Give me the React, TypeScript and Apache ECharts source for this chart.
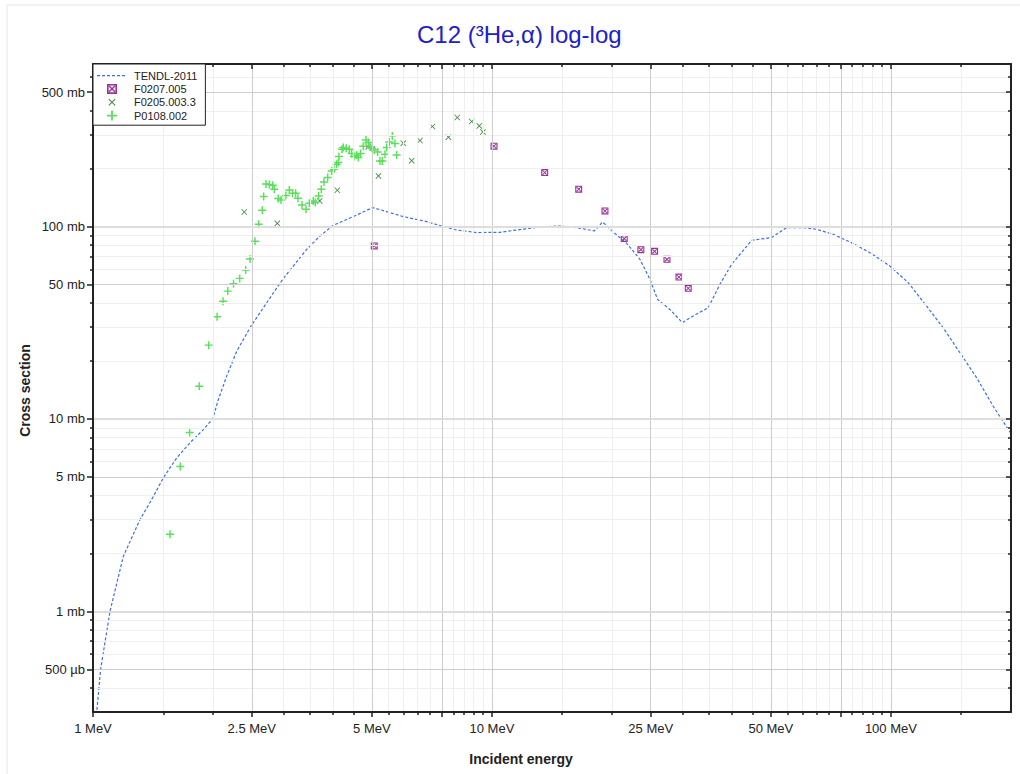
import React, { useEffect, useRef } from "react";
import * as echarts from "echarts";

// ---------- data ----------
const TENDL_ENERGY = [1.02, 1.045, 1.103, 1.191, 1.311, 1.403, 1.5, 1.621, 1.75, 1.89, 1.995, 2.061, 2.163, 2.292, 2.489, 2.725, 2.988, 3.177, 3.433, 3.707, 4.003, 4.492, 5.02, 5.446, 5.994, 6.861, 7.55, 8.154, 9.157, 10.47, 11.53, 13.19, 14.81, 16.31, 18.05, 18.94, 20.14, 21.76, 23.49, 24.89, 26.02, 27.93, 30.0, 31.95, 34.84, 37.27, 39.89, 44.77, 50.23, 54.79, 60.28, 65.14, 71.68, 80.45, 88.6, 99.4, 110.5, 122.9, 135.2, 148.9, 164.0, 180.5, 200];
const TENDL_XS = [0.29, 0.5, 1.0, 1.93, 3.0, 3.81, 4.94, 6.28, 7.52, 8.81, 10.0, 12.6, 16.7, 22.5, 30.4, 40.2, 53.2, 62.4, 76.2, 89.4, 101.6, 112.7, 125.5, 119.7, 112.7, 106.2, 100, 96.0, 93.1, 93.4, 96.0, 99.5, 100.7, 98.8, 94.9, 105.7, 93.7, 81.9, 67.6, 53.2, 41.8, 37.1, 31.7, 34.3, 37.9, 50.1, 63.7, 84.9, 87.7, 98.8, 98.8, 96.8, 91.2, 81.6, 73.2, 62.4, 51.1, 38.6, 29.8, 22.1, 16.4, 11.65, 8.4];

const F0207_ENERGY = [5.07, 10.12, 13.56, 16.5, 19.2, 21.46, 23.62, 25.57, 27.46, 29.43, 31.05];
const F0207_XS = [79.3, 261.7, 191.0, 156.4, 120.6, 86.6, 75.9, 74.4, 67.6, 54.7, 47.8];

const F0205_ENERGY = [2.394, 2.897, 3.7, 4.096, 4.898, 5.195, 5.994, 6.292, 6.6, 7.094, 7.78, 8.185, 8.895, 9.294, 9.494];
const F0205_XS = [119.1, 104.0, 135.9, 154.5, 259.5, 183.3, 271.3, 220.0, 280.2, 331.3, 291.5, 369.0, 351.8, 333.7, 310.6];

const P0108_ENERGY = [1.56, 1.655, 1.747, 1.846, 1.95, 2.046, 2.118, 2.176, 2.25, 2.332, 2.414, 2.475, 2.547, 2.602, 2.657, 2.678, 2.714, 2.766, 2.821, 2.847, 2.913, 2.959, 3.045, 3.105, 3.166, 3.221, 3.264, 3.341, 3.419, 3.485, 3.566, 3.607, 3.679, 3.734, 3.793, 3.875, 3.965, 4.018, 4.081, 4.12, 4.135, 4.208, 4.24, 4.314, 4.389, 4.45, 4.509, 4.58, 4.622, 4.687, 4.758, 4.833, 4.898, 4.946, 5.003, 5.07, 5.171, 5.24, 5.31, 5.393, 5.446, 5.528, 5.625, 5.713, 5.769];
const P0108_XS = [2.52, 5.66, 8.51, 14.8, 24.2, 34.0, 40.9, 46.2, 50.5, 53.8, 59.4, 67.8, 83.9, 102.8, 121.6, 143.3, 166.6, 165.4, 164.0, 156.4, 139.9, 137.5, 145.0, 155.0, 149.0, 149.0, 140.4, 129.6, 123.0, 132.2, 135.9, 133.3, 144.3, 156.4, 170.6, 179.8, 194.6, 198.7, 211.0, 215.3, 231.3, 252.5, 257.6, 255.5, 252.5, 239.8, 231.3, 235.0, 228.6, 239.8, 261.7, 282.2, 273.5, 259.5, 255.5, 250.3, 244.4, 219.4, 219.4, 237.8, 257.6, 275.5, 296.1, 270.3, 235.8];

const SERIES_NAMES = ["TENDL-2011", "F0207.005", "F0205.003.3", "P0108.002"];

// axis ticks / labels
const X_LABEL_VALUES = [1, 2.5, 5, 10, 25, 50, 100];
const X_LABEL_TEXTS = ["1 MeV", "2.5 MeV", "5 MeV", "10 MeV", "25 MeV", "50 MeV", "100 MeV"];
const X_MAJOR = [1, 2.5, 5, 7.5, 10, 25, 50, 75, 100];
const X_MINOR = [1.5, 2, 3, 3.5, 4, 4.5, 5.5, 6, 6.5, 7, 8, 8.5, 9, 9.5, 15, 20, 30, 35, 40, 45, 55, 60, 65, 70, 80, 85, 90, 95, 150];
const Y_LABEL_VALUES = [0.5, 1, 5, 10, 50, 100, 500];
const Y_LABEL_TEXTS = ["500 µb", "1 mb", "5 mb", "10 mb", "50 mb", "100 mb", "500 mb"];
const Y_DECADES = [1, 10, 100];
const Y_MAJOR = [0.5, 1, 5, 10, 50, 100, 500];
const Y_MINOR = [0.4, 0.6, 0.7, 0.8, 0.9, 2, 3, 4, 6, 7, 8, 9, 20, 30, 40, 60, 70, 80, 90, 200, 300, 400, 600];

const X_MIN = 1, X_MAX = 200, Y_MIN = 0.3, Y_MAX = 700;

const FONT = "'Liberation Sans', Arial, Helvetica, sans-serif";
const INK = "#222222";

const SYM_BOX = "path://M0,0 H10 V10 H0 Z M1.6,1.6 V8.4 H8.4 V1.6 Z M1.6,2.6 L2.6,1.6 L8.4,7.4 L7.4,8.4 Z M7.4,1.6 L8.4,2.6 L2.6,8.4 L1.6,7.4 Z";
const SYM_X = "path://M0,1 L1,0 L5,4 L9,0 L10,1 L6,5 L10,9 L9,10 L5,6 L1,10 L0,9 L4,5 Z";
const SYM_X_LEGEND = "path://M-2,-2 M12,12 M0,1 L1,0 L5,4 L9,0 L10,1 L6,5 L10,9 L9,10 L5,6 L1,10 L0,9 L4,5 Z";
const SYM_PLUS = "path://M4.1,0 H5.9 V4.1 H10 V5.9 H5.9 V10 H4.1 V5.9 H0 V4.1 H4.1 Z";
const SYM_DASH_LEGEND = "path://M0,0 M30,0 M0,-5 M0,5 M0,-0.6 H3 V0.6 H0 Z M5,-0.6 H8 V0.6 H5 Z M10,-0.6 H13 V0.6 H10 Z M15,-0.6 H18 V0.6 H15 Z M20,-0.6 H23 V0.6 H20 Z M25,-0.6 H28 V0.6 H25 Z";

function zip(a: number[], b: number[]) {
  return a.map((v, i) => [v, b[i]]);
}
function lookup(values: number[], texts: string[]) {
  return (v: number) => {
    for (let i = 0; i < values.length; i++) {
      if (Math.abs(v - values[i]) < 1e-6 * values[i]) return texts[i];
    }
    return "";
  };
}

export default function App() {
  const ref = useRef<HTMLDivElement>(null);
  useEffect(() => {
    if (!ref.current) return;
    const chart = echarts.init(ref.current, undefined, { renderer: "svg" });

    const baseX: any = { type: "log", logBase: 10, min: X_MIN, max: X_MAX, splitLine: { show: false }, z: 6 };
    const baseY: any = { type: "log", logBase: 10, min: Y_MIN, max: Y_MAX, splitLine: { show: false }, z: 6 };
    const axisLine = { show: true, onZero: false, lineStyle: { color: INK, width: 2 } };
    const tickStyle = { color: INK, width: 1.5 };

    const gridLines: any[] = [
      ...X_MINOR.map((v) => ({ xAxis: v, lineStyle: { color: "#efefef", width: 1, type: "solid" } })),
      ...Y_MINOR.map((v) => ({ yAxis: v, lineStyle: { color: "#efefef", width: 1, type: "solid" } })),
      ...X_MAJOR.filter((v) => v > X_MIN).map((v) => ({ xAxis: v, lineStyle: { color: "#cccccc", width: 1, type: "solid" } })),
      ...Y_MAJOR.map((v) => ({
        yAxis: v,
        lineStyle: Y_DECADES.includes(v)
          ? { color: "#dddddd", width: 2, type: "solid" }
          : { color: "#cccccc", width: 1, type: "solid" },
      })),
    ];

    chart.setOption({
      animation: false,
      backgroundColor: "#ffffff",
      title: {
        text: "C12 (³He,α) log-log",
        left: 417,
        top: 22,
        padding: 0,
        textStyle: { color: "#2020c8", fontSize: 24, fontWeight: "normal", fontFamily: FONT },
      },
      legend: {
        orient: "vertical",
        left: 93,
        top: 64,
        padding: [5, 8, 3, 4],
        itemGap: 0,
        itemWidth: 34,
        itemHeight: 10,
        backgroundColor: "#ffffff",
        borderColor: INK,
        borderWidth: 1,
        borderRadius: 0,
        selectedMode: false,
        z: 20,
        textStyle: { fontSize: 11, color: INK, fontFamily: FONT, lineHeight: 13.3 },
        data: [
          { name: SERIES_NAMES[0], icon: SYM_DASH_LEGEND, itemStyle: { color: "#3b6fe8" } },
          { name: SERIES_NAMES[1], icon: SYM_BOX },
          { name: SERIES_NAMES[2], icon: SYM_X_LEGEND },
          { name: SERIES_NAMES[3], icon: SYM_PLUS },
        ],
      },
      grid: { left: 93, top: 64, right: 9, bottom: 62, containLabel: false },
      xAxis: [
        {
          ...baseX,
          position: "bottom",
          axisLine,
          axisTick: { show: true, customValues: X_MAJOR, length: 5, lineStyle: tickStyle },
          axisLabel: {
            show: true,
            customValues: X_LABEL_VALUES,
            formatter: lookup(X_LABEL_VALUES, X_LABEL_TEXTS),
            margin: 10,
            color: INK,
            fontSize: 13,
            fontFamily: FONT,
          },
        },
        {
          ...baseX,
          position: "bottom",
          axisLine: { show: false },
          axisTick: { show: true, customValues: X_MINOR, length: 3, lineStyle: tickStyle },
          axisLabel: { show: false },
        },
        {
          ...baseX,
          position: "top",
          axisLine,
          axisTick: { show: true, inside: true, customValues: X_MAJOR, length: 5, lineStyle: tickStyle },
          axisLabel: { show: false },
        },
        {
          ...baseX,
          position: "top",
          axisLine: { show: false },
          axisTick: { show: true, inside: true, customValues: X_MINOR, length: 3, lineStyle: tickStyle },
          axisLabel: { show: false },
        },
      ],
      yAxis: [
        {
          ...baseY,
          position: "left",
          axisLine,
          axisTick: { show: true, customValues: Y_MAJOR, length: 6, lineStyle: tickStyle },
          axisLabel: {
            show: true,
            customValues: Y_LABEL_VALUES,
            formatter: lookup(Y_LABEL_VALUES, Y_LABEL_TEXTS),
            margin: 8,
            color: INK,
            fontSize: 13,
            fontFamily: FONT,
          },
        },
        {
          ...baseY,
          position: "left",
          axisLine: { show: false },
          axisTick: { show: true, customValues: Y_MINOR, length: 3, lineStyle: tickStyle },
          axisLabel: { show: false },
        },
        {
          ...baseY,
          position: "right",
          axisLine,
          axisTick: { show: true, inside: true, customValues: Y_MAJOR, length: 5, lineStyle: tickStyle },
          axisLabel: { show: false },
        },
        {
          ...baseY,
          position: "right",
          axisLine: { show: false },
          axisTick: { show: true, inside: true, customValues: Y_MINOR, length: 3, lineStyle: tickStyle },
          axisLabel: { show: false },
        },
      ],
      graphic: [
        {
          type: "rect",
          shape: { x: 7, y: 5, width: 1100, height: 900 },
          style: { fill: "none", stroke: "#e6e6e6", lineWidth: 1 },
          silent: true,
          z: -10,
        },
        {
          type: "text",
          x: 521,
          y: 758.5,
          style: { text: "Incident energy", fill: INK, font: `bold 14px ${FONT}`, textAlign: "center", textVerticalAlign: "middle" },
          silent: true,
        },
        {
          type: "text",
          x: 25,
          y: 390.5,
          rotation: Math.PI / 2,
          style: { text: "Cross section", fill: INK, font: `bold 14px ${FONT}`, textAlign: "center", textVerticalAlign: "middle" },
          silent: true,
        },
      ],
      series: [
        {
          name: "grid",
          type: "line",
          xAxisIndex: 0,
          yAxisIndex: 0,
          data: [[10, 10]],
          showSymbol: false,
          symbol: "none",
          lineStyle: { opacity: 0 },
          silent: true,
          z: 1,
          markLine: { silent: true, symbol: "none", label: { show: false }, animation: false, data: gridLines },
        },
        {
          name: SERIES_NAMES[0],
          type: "line",
          xAxisIndex: 0,
          yAxisIndex: 0,
          data: zip(TENDL_ENERGY, TENDL_XS),
          symbol: "none",
          showSymbol: false,
          smooth: false,
          clip: true,
          lineStyle: { color: "#3b6fe8", width: 1.2, type: [3, 2] },
          itemStyle: { color: "#3b6fe8" },
          z: 3,
        },
        {
          name: SERIES_NAMES[1],
          type: "scatter",
          data: zip(F0207_ENERGY, F0207_XS),
          symbol: SYM_BOX,
          symbolSize: 7,
          itemStyle: { color: "#993399", opacity: 1 },
          z: 4,
        },
        {
          name: SERIES_NAMES[2],
          type: "scatter",
          data: zip(F0205_ENERGY, F0205_XS),
          symbol: SYM_X,
          symbolSize: 6,
          itemStyle: { color: "#3d8c3d", opacity: 1 },
          z: 4,
        },
        {
          name: SERIES_NAMES[3],
          type: "scatter",
          data: zip(P0108_ENERGY, P0108_XS),
          symbol: SYM_PLUS,
          symbolSize: 8,
          itemStyle: { color: "#5ae05a", opacity: 1 },
          z: 4,
        },
      ],
    });
    return () => chart.dispose();
  }, []);
  return <div ref={ref} style={{ position: "absolute", left: 0, top: 0, width: 1020, height: 774 }} />;
}
